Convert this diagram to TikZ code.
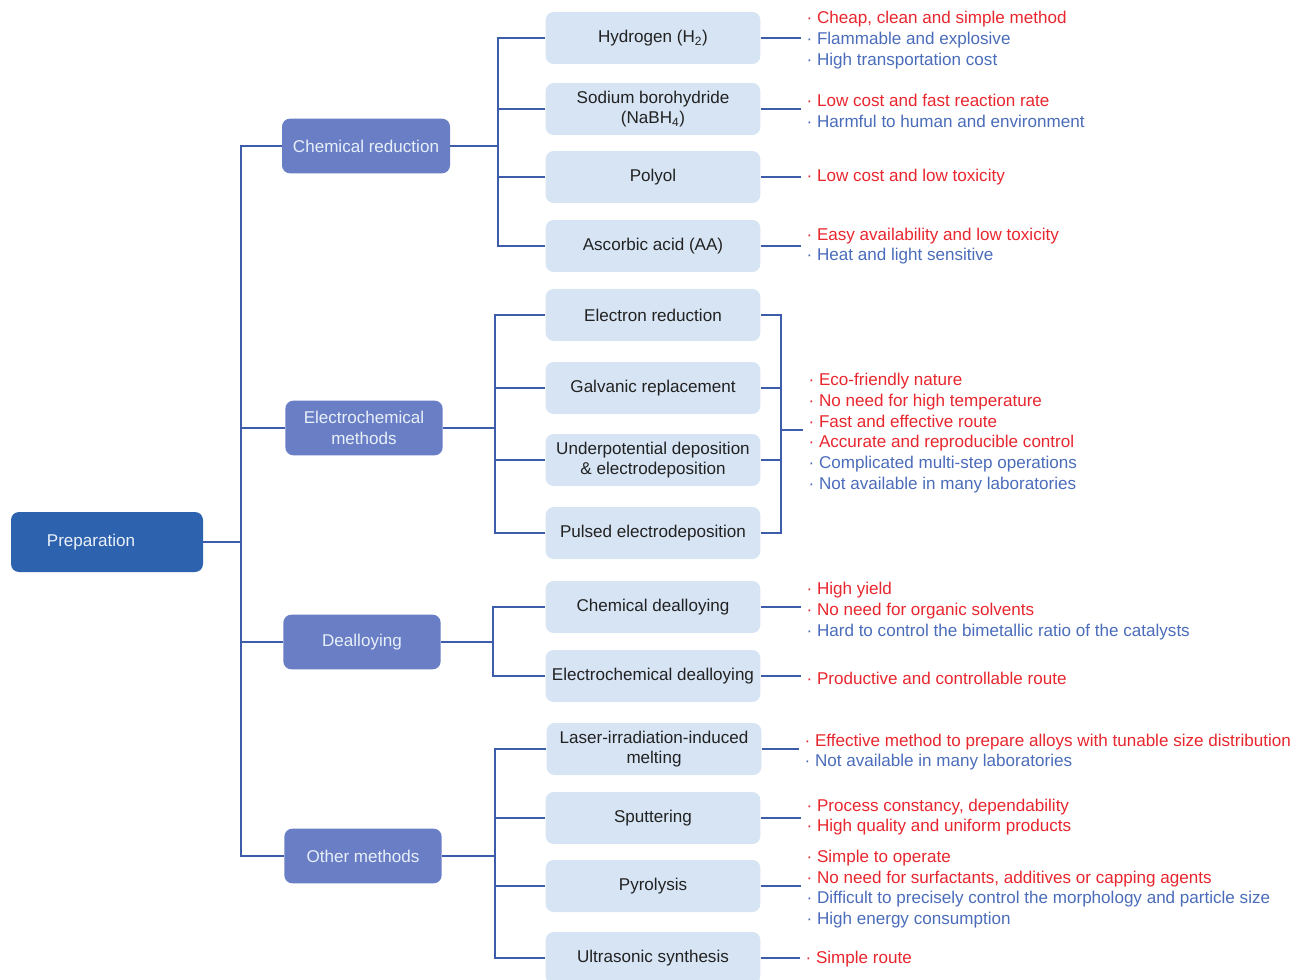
\documentclass[tikz,border=0pt]{standalone}
\usepackage{fontspec}
\setmainfont{Liberation Sans}

\definecolor{prepblue}{HTML}{2D62AE}
\definecolor{midblue}{HTML}{6A7EC6}
\definecolor{lightblue}{HTML}{D6E4F4}
\definecolor{linkblue}{HTML}{3D5DAA}
\definecolor{darktext}{HTML}{222222}
\definecolor{prored}{HTML}{E8262E}
\definecolor{conblue}{HTML}{4A6CBA}

\tikzset{
  root/.style={fill=prepblue, rounded corners=6pt, text=lightblue!50!white, minimum width=144pt, minimum height=45pt},
  method/.style={fill=midblue, rounded corners=6pt, text=lightblue!60!white, align=center, minimum width=118pt, minimum height=41pt, inner sep=2pt},
  route/.style={fill=lightblue, rounded corners=6pt, text=darktext, align=center, minimum width=161pt, minimum height=39pt, inner sep=2pt},
  note/.style={anchor=west, align=left, inner xsep=4pt, inner ysep=0pt},
  link/.style={draw=linkblue, line width=1.8pt},
}
\newcommand{\pro}[1]{\textcolor{prored}{· #1}}
\newcommand{\con}[1]{\textcolor{conblue}{· #1}}

\begin{document}
\begin{tikzpicture}[x=0.75pt, y=-0.75pt, every node/.style={font=\fontsize{12.8pt}{15.6pt}\selectfont}]
\useasboundingbox (0,0) rectangle (1298,980);

\node[root] (prep) at (107,542) {Preparation\hspace*{24pt}};

\node[method, minimum width=126pt] (chem) at (366,146) {Chemical reduction};
\node[method] (electro) at (364,428) {Electrochemical\\methods};
\node[method] (deal) at (362,642) {Dealloying};
\node[method] (other) at (363,856) {Other methods};

\node[route] (h2) at (653,38) {Hydrogen (H\textsubscript{2})};
\node[route] (nabh) at (653,109) {Sodium borohydride\\(NaBH\textsubscript{4})};
\node[route] (polyol) at (653,177) {Polyol};
\node[route] (aa) at (653,246) {Ascorbic acid (AA)};
\node[route] (er) at (653,315) {Electron reduction};
\node[route] (gr) at (653,388) {Galvanic replacement};
\node[route] (upd) at (653,460) {Underpotential deposition\\\& electrodeposition};
\node[route] (ped) at (653,533) {Pulsed electrodeposition};
\node[route] (cd) at (653,607) {Chemical dealloying};
\node[route] (ecd) at (653,676) {Electrochemical dealloying};
\node[route] (laser) at (654,749) {Laser-irradiation-induced\\melting};
\node[route] (sput) at (653,818) {Sputtering};
\node[route] (pyro) at (653,886) {Pyrolysis};
\node[route] (ultra) at (653,958) {Ultrasonic synthesis};

\node[note] (h2n) at (801,40) {\pro{Cheap, clean and simple method}\\\con{Flammable and explosive}\\\con{High transportation cost}};
\node[note] (nabhn) at (801,111) {\pro{Low cost and fast reaction rate}\\\con{Harmful to human and environment}};
\node[note] (polyoln) at (801,177) {\pro{Low cost and low toxicity}};
\node[note] (aan) at (801,246) {\pro{Easy availability and low toxicity}\\\con{Heat and light sensitive}};
\node[note] (en) at (803,433) {\pro{Eco-friendly nature}\\\pro{No need for high temperature}\\\pro{Fast and effective route}\\\pro{Accurate and reproducible control}\\\con{Complicated multi-step operations}\\\con{Not available in many laboratories}};
\node[note] (cdn) at (801,611) {\pro{High yield}\\\pro{No need for organic solvents}\\\con{Hard to control the bimetallic ratio of the catalysts}};
\node[note] (ecdn) at (801,678) {\pro{Productive and controllable route}};
\node[note] (lasern) at (799,752) {\pro{Effective method to prepare alloys with tunable size distribution}\\\con{Not available in many laboratories}};
\node[note] (sputn) at (801,817) {\pro{Process constancy, dependability}\\\pro{High quality and uniform products}};
\node[note] (pyron) at (801,889) {\pro{Simple to operate}\\\pro{No need for surfactants, additives or capping agents}\\\con{Difficult to precisely control the morphology and particle size}\\\con{High energy consumption}};
\node[note] (ultran) at (800,959) {\pro{Simple route}};

% tree connectors
\coordinate (tj) at (241,542);
\draw[link] (prep.east) -- (tj);
\foreach \n in {chem,electro,deal,other} {\draw[link] (tj) |- (\n.west);}

\coordinate (cj) at (498,146);
\draw[link] (chem.east) -- (cj);
\foreach \n in {h2,nabh,polyol,aa} {\draw[link] (cj) |- (\n.west);}

\coordinate (ej) at (495,428);
\draw[link] (electro.east) -- (ej);
\foreach \n in {er,gr,upd,ped} {\draw[link] (ej) |- (\n.west);}

\coordinate (dj) at (493,642);
\draw[link] (deal.east) -- (dj);
\foreach \n in {cd,ecd} {\draw[link] (dj) |- (\n.west);}

\coordinate (oj) at (495,856);
\draw[link] (other.east) -- (oj);
\foreach \n in {laser,sput,pyro,ultra} {\draw[link] (oj) |- (\n.west);}

% notes
\foreach \n in {h2,nabh,polyol,aa,cd,ecd,laser,sput,pyro,ultra} {\draw[link] (\n.east) -- (\n.east -| \n n.west);}
\coordinate (eb) at (781,430);
\foreach \n in {er,gr,upd,ped} {\draw[link] (\n.east) -| (eb);}
\draw[link] (eb) -- (eb -| en.west);

\end{tikzpicture}
\end{document}
